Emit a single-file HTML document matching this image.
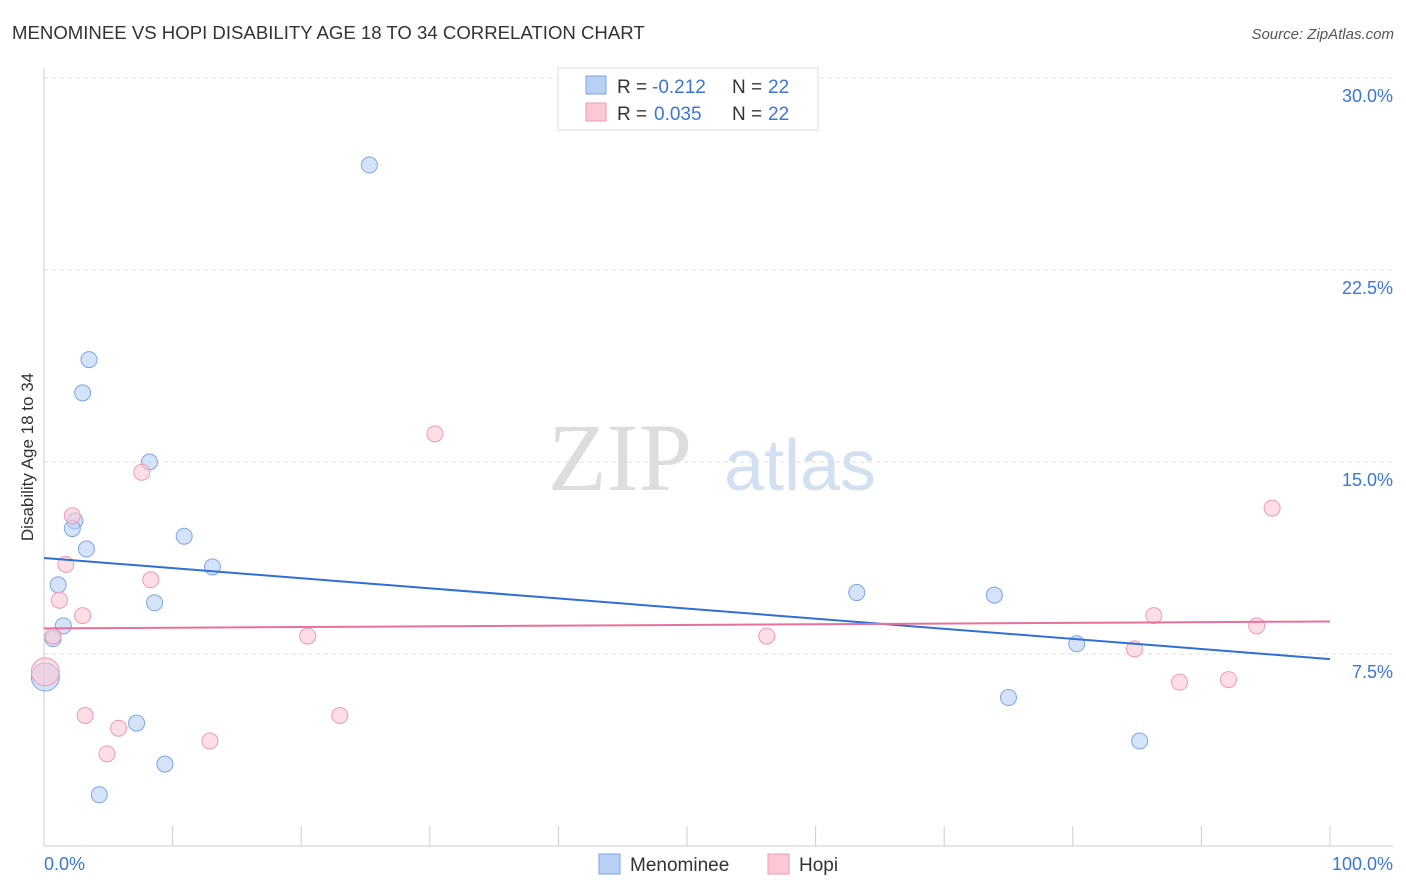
<!DOCTYPE html>
<html><head><meta charset="utf-8"><style>
body{margin:0;background:#fff;font-family:"Liberation Sans",sans-serif}
svg{display:block}
</style></head><body>
<svg width="1406" height="892" id="chart">
<text x="12" y="39" font-size="18.6" fill="#333">MENOMINEE VS HOPI DISABILITY AGE 18 TO 34 CORRELATION CHART</text>
<text x="1394" y="39" font-size="15" fill="#555" font-style="italic" text-anchor="end">Source: ZipAtlas.com</text>
<text x="620" y="490" font-size="96" fill="#ddd" font-family="Liberation Serif,serif" text-anchor="middle">ZIP</text>
<text x="800" y="490" font-size="72" fill="#d3e0f2" text-anchor="middle">atlas</text>
<text transform="translate(33,457) rotate(-90)" font-size="17" fill="#333" text-anchor="middle">Disability Age 18 to 34</text>
<g id="grid"></g><g id="axes"></g><g id="marks"></g>
<g>
<rect x="558" y="68" width="260" height="62" fill="#fff" stroke="#ddd"/>
<rect x="586" y="76" width="20" height="18" fill="#b8d0f4" stroke="#7aa6e6"/>
<rect x="586" y="103" width="20" height="18" fill="#fbc8d6" stroke="#ee9ab4"/>
<text x="617" y="93" font-size="19" fill="#333">R =</text>
<text x="652" y="93" font-size="19" fill="#3a76d8">-0.212</text>
<text x="732" y="93" font-size="19" fill="#333">N =</text>
<text x="768" y="93" font-size="19" fill="#3a76d8">22</text>
<text x="617" y="120" font-size="19" fill="#333">R =</text>
<text x="654" y="120" font-size="19" fill="#3a76d8">0.035</text>
<text x="732" y="120" font-size="19" fill="#333">N =</text>
<text x="768" y="120" font-size="19" fill="#3a76d8">22</text>
</g>
<g>
<rect x="599" y="854" width="21" height="20" fill="#b8d0f4" stroke="#7aa6e6"/>
<text x="630" y="871" font-size="19" fill="#333">Menominee</text>
<rect x="768" y="854" width="21" height="20" fill="#fbc8d6" stroke="#ee9ab4"/>
<text x="799" y="871" font-size="19" fill="#333">Hopi</text>
</g>
</svg>
<script>
const yTicks=[7.5,15,22.5,30];
const yTickLabels=["7.5%","15.0%","22.5%","30.0%"];
const xTickCount=10;
const blueX=[25.3,3.5,3.0,8.2,10.9,2.4,2.2,3.3,13.1,1.1,8.6,1.5,0.7,0.1,7.2,9.4,4.3,63.2,73.9,80.3,75.0,85.2];
const blueY=[26.6,19.0,17.7,15.0,12.1,12.7,12.4,11.6,10.9,10.2,9.5,8.6,8.1,6.6,4.8,3.2,2.0,9.9,9.8,7.9,5.8,4.1];
const pinkX=[30.4,7.6,2.2,1.7,8.3,1.2,3.0,20.5,0.7,0.1,3.2,5.8,4.9,12.9,23.0,56.2,95.5,86.3,94.3,84.8,88.3,92.1];
const pinkY=[16.1,14.6,12.9,11.0,10.4,9.6,9.0,8.2,8.2,6.8,5.1,4.6,3.6,4.1,5.1,8.2,13.2,9.0,8.6,7.7,6.4,6.5];
const blueTrend=[11.25,7.3];
const pinkTrend=[8.5,8.77];
const NS="http://www.w3.org/2000/svg";
const xs=v=>44+v*12.86, ys=v=>846-v*25.6;
function mk(t,a,p){const e=document.createElementNS(NS,t);for(const k in a)e.setAttribute(k,a[k]);document.getElementById(p).appendChild(e);return e;}
yTicks.forEach((t,i)=>{
 const g=mk('line',{x1:44,x2:1393,y1:ys(t),y2:ys(t),stroke:'#ddd','stroke-dasharray':'4,4'},'grid');
 
 
 const l=mk('text',{x:1393,y:ys(t)+24,'font-size':18,fill:'#3a76d8','text-anchor':'end'},'axes');
 l.textContent=yTickLabels[i];
 
 
});
let a=mk('line',{x1:44,x2:44,y1:68,y2:846,stroke:'#ccc'},'axes');


a=mk('line',{x1:44,x2:1393,y1:846,y2:846,stroke:'#ccc'},'axes');


for(let i=0;i<=xTickCount;i++){
 const t=mk('line',{x1:xs(i*10),x2:xs(i*10),y1:826,y2:846,stroke:'#ccc'},'axes');
 
 
}
let xl=mk('text',{x:44,y:870,'font-size':18,fill:'#3a76d8'},'axes');xl.textContent='0.0%';


xl=mk('text',{x:1393,y:870,'font-size':18,fill:'#3a76d8','text-anchor':'end'},'axes');xl.textContent='100.0%';


function pts(X,Y,fill,stroke,name){X.forEach((x,i)=>{
 const big=x<0.5;
 const c=mk('circle',{cx:xs(x),cy:ys(Y[i]),r:big?14:8,fill:fill,stroke:stroke,'fill-opacity':0.6,'stroke-width':1},'marks');
 
 
});}
pts(blueX,blueY,'#b8d0f4','#7aa6e6','menominee-point');
pts(pinkX,pinkY,'#fbc8d6','#ee9ab4','hopi-point');
let tl=mk('line',{x1:xs(0),x2:xs(100),y1:ys(blueTrend[0]),y2:ys(blueTrend[1]),stroke:'#2f6fd6','stroke-width':2},'marks');


tl=mk('line',{x1:xs(0),x2:xs(100),y1:ys(pinkTrend[0]),y2:ys(pinkTrend[1]),stroke:'#e8709a','stroke-width':2},'marks');


</script>
</body></html>
